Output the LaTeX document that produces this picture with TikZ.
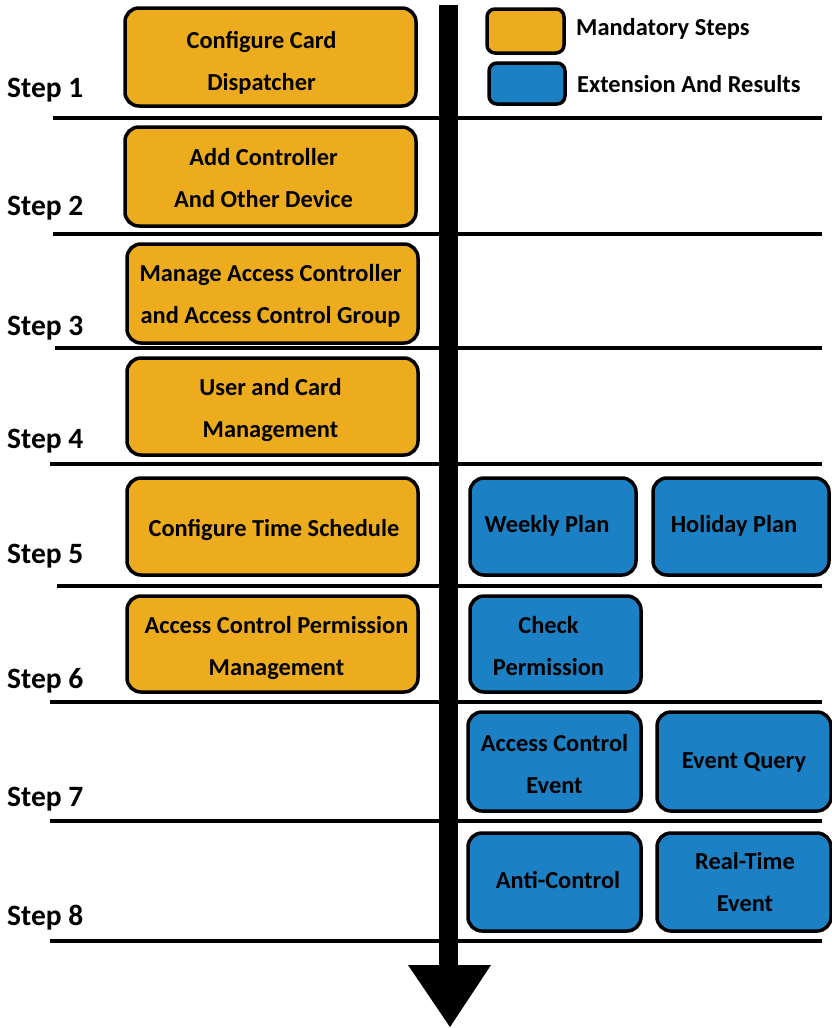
\documentclass[tikz,border=0pt]{standalone}
\usepackage{fontspec}
\setmainfont{Carlito}
\usetikzlibrary{calc}
\definecolor{mand}{RGB}{237,172,30}
\definecolor{ext}{RGB}{27,128,196}
\begin{document}
\begin{tikzpicture}[x=1pt,y=-1pt,
  box/.style={draw=black,line width=3.5pt,rounded corners=14pt,inner sep=0pt},
  mandbox/.style={box,fill=mand},
  extbox/.style={box,fill=ext},
  boxtext/.style={inner sep=0pt,align=center,font=\fontsize{24.4}{42}\selectfont\bfseries},
  steplabel/.style={anchor=base west,inner sep=0pt,font=\fontsize{29.5}{32}\selectfont\bfseries},
  sep/.style={line width=3.5pt},
  legbox/.style={draw=black,line width=3.5pt,rounded corners=8pt,inner sep=0pt},
  legtext/.style={anchor=west,inner sep=0pt,font=\fontsize{24.4}{28}\selectfont\bfseries}]
\useasboundingbox (0,0) rectangle (832,1028);
% separator lines
\foreach \y/\xa in {118/53,234/53,348/55,464/50,586/57,702/50,821/50,941/50}
  \draw[sep] (\xa,\y) -- (822,\y);
% timeline arrow
\fill[black] (439,5) rectangle (458,966);
\fill[black] (408,965) -- (491,965) -- (450,1027) -- cycle;
% step labels
\foreach \n/\y in {1/97,2/215,3/335,4/448,5/563,6/688,7/806,8/925}
  \node[steplabel] (s\n) at (7,\y) {Step \n};
% mandatory boxes
\node[mandbox,minimum width=291pt,minimum height=98pt] (m1) at (270.5,57) {};
\node[mandbox,minimum width=291pt,minimum height=99pt] (m2) at (270.5,176.5) {};
\node[mandbox,minimum width=291pt,minimum height=99pt] (m3) at (272.5,293.5) {};
\node[mandbox,minimum width=291pt,minimum height=97pt] (m4) at (272.5,406.5) {};
\node[mandbox,minimum width=291pt,minimum height=97pt] (m5) at (272.5,526.5) {};
\node[mandbox,minimum width=291pt,minimum height=96pt] (m6) at (272.5,644) {};
% extension boxes
\node[extbox,minimum width=166pt,minimum height=97pt] (e1) at (553,526.5) {};
\node[extbox,minimum width=176pt,minimum height=97pt] (e2) at (741,526.5) {};
\node[extbox,minimum width=171pt,minimum height=96pt] (e3) at (555.5,644) {};
\node[extbox,minimum width=173pt,minimum height=99pt] (e4) at (554.5,761.5) {};
\node[extbox,minimum width=174pt,minimum height=99pt] (e5) at (744,761.5) {};
\node[extbox,minimum width=173pt,minimum height=98pt] (e6) at (554.5,882) {};
\node[extbox,minimum width=174pt,minimum height=98pt] (e7) at (744,882) {};
% box texts
\node[boxtext] (tm1) at ($(m1.center)+(-9,5.5)$) {Configure Card\\Dispatcher};
\node[boxtext] (tm2) at ($(m2.center)+(-7,2)$) {Add Controller\\And Other Device};
\node[boxtext] (tm3) at ($(m3.center)+(-2,2)$) {Manage Access Controller\\and Access Control Group};
\node[boxtext] (tm4) at ($(m4.center)+(-2,3.5)$) {User and Card\\Management};
\node[boxtext] (tm5) at ($(m5.center)+(1.5,3)$) {Configure Time Schedule};
\node[boxtext] (tm6) at ($(m6.center)+(4,4)$) {Access Control Permission\\Management};
\node[boxtext] (te1) at ($(e1.center)+(-6,-1)$) {Weekly Plan};
\node[boxtext] (te2) at ($(e2.center)+(-7,-1)$) {Holiday Plan};
\node[boxtext] (te3) at ($(e3.center)+(-7,2)$) {Check\\Permission};
\node[boxtext] (te4) at ($(e4.center)+(0,2.5)$) {Access Control\\Event};
\node[boxtext] (te5) at ($(e5.center)+(0,1)$) {Event Query};
\node[boxtext] (te6) at ($(e6.center)+(3.5,-2)$) {Anti-Control};
\node[boxtext] (te7) at ($(e7.center)+(1,0)$) {Real-Time\\Event};
% legend
\node[legbox,fill=mand,minimum width=77pt,minimum height=44pt] (lg1) at (525.5,31) {};
\node[legbox,fill=ext,minimum width=76pt,minimum height=41pt] (lg2) at (527,83.5) {};
\node[legtext] (lt1) at (576,29) {Mandatory Steps};
\node[legtext] (lt2) at (577,84) {Extension And Results};
\end{tikzpicture}
\end{document}
